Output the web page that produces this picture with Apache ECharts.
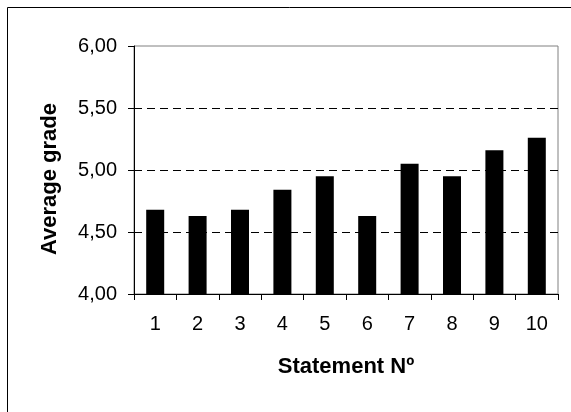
<!DOCTYPE html>
<html>
<head>
<meta charset="utf-8">
<script src="https://cdn.jsdelivr.net/npm/echarts@6/dist/echarts.min.js"></script>
<style>
  html, body { margin: 0; padding: 0; background: #fff; }
  #chart { width: 571px; height: 412px; }
</style>
</head>
<body>
<div id="chart"></div>
<script>
const statements = ["1", "2", "3", "4", "5", "6", "7", "8", "9", "10"];
const grades = [4.68, 4.63, 4.68, 4.84, 4.95, 4.63, 5.05, 4.95, 5.16, 5.26];
const yTicks = [4.0, 4.5, 5.0, 5.5, 6.0];

const font = 'Arial, "Liberation Sans", sans-serif';
const myChart = echarts.init(document.getElementById("chart"));

myChart.setOption({
  animation: false,
  graphic: [
    {
      type: "rect",
      silent: true,
      z: -10,
      shape: { x: 7.5, y: 7.5, width: 700, height: 500 },
      style: { fill: "none", stroke: "#000", lineWidth: 1 },
    },
  ],
  grid: {
    left: 134,
    top: 46,
    right: 13,
    bottom: 118,
    show: true,
    borderColor: "#808080",
    borderWidth: 1,
  },
  xAxis: {
    type: "category",
    data: statements,
    boundaryGap: true,
    name: "Statement Nº",
    nameLocation: "middle",
    nameGap: 62,
    nameTextStyle: { color: "#000", fontFamily: font, fontSize: 22, fontWeight: "bold" },
    axisLine: { lineStyle: { color: "#000", width: 1 } },
    axisTick: { show: true, length: 6, lineStyle: { color: "#000" } },
    axisLabel: { color: "#000", fontFamily: font, fontSize: 20, margin: 20 },
  },
  yAxis: {
    type: "value",
    min: yTicks[0],
    max: yTicks[yTicks.length - 1],
    interval: 0.5,
    name: "Average grade",
    nameLocation: "middle",
    nameGap: 73,
    nameTextStyle: {
      color: "#000",
      fontFamily: font,
      fontSize: 22,
      fontWeight: "bold",
      padding: [0, 18, 0, 0],
    },
    axisLine: { show: true, lineStyle: { color: "#000", width: 1 } },
    axisTick: { show: true, length: 6, lineStyle: { color: "#000" } },
    axisLabel: {
      color: "#000",
      fontFamily: font,
      fontSize: 20,
      margin: 17,
      formatter: (v) => v.toFixed(2).replace(".", ","),
    },
    splitLine: {
      show: true,
      lineStyle: {
        color: ["#000", "#000", "#000", "#000", "rgba(0,0,0,0)"],
        type: [8, 5],
        width: 1,
      },
    },
  },
  series: [
    {
      type: "bar",
      data: grades,
      barWidth: 18,
      itemStyle: { color: "#000" },
    },
  ],
});
</script>
</body>
</html>
